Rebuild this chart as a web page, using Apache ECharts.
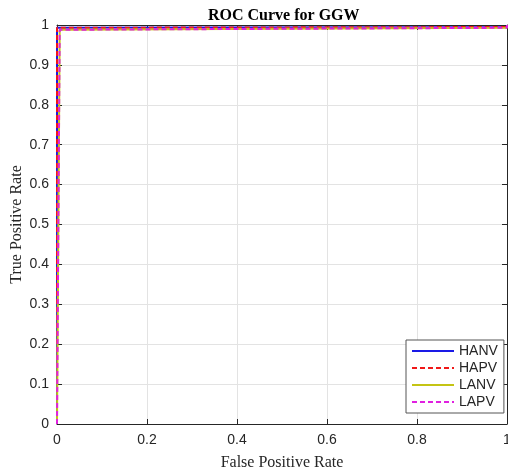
<!DOCTYPE html>
<html>
<head>
<meta charset="utf-8">
<script src="https://cdn.jsdelivr.net/npm/echarts@6/dist/echarts.min.js"></script>
<style>html,body{margin:0;padding:0;background:#fff;}#chart{width:508px;height:474px;}</style>
</head>
<body>
<div id="chart"></div>
<script>
// Data
const seriesNames = ['HANV', 'HAPV', 'LANV', 'LAPV'];
const hanvFPR = [0, 0, 1, 1];
const hanvTPR = [0, 0.993, 0.995, 1];
const hapvFPR = [0, 0, 1, 1];
const hapvTPR = [0, 0.993, 0.995, 1];
const lanvFPR = [0, 0.006, 1, 1];
const lanvTPR = [0, 0.988, 0.993, 1];
const lapvFPR = [0, 0.006, 1, 1];
const lapvTPR = [0, 0.988, 0.993, 1];
const xTicks = [0, 0.2, 0.4, 0.6, 0.8, 1];
const yTicks = [0, 0.1, 0.2, 0.3, 0.4, 0.5, 0.6, 0.7, 0.8, 0.9, 1];

const pairs = (xs, ys) => xs.map((x, i) => [x, ys[i]]);
const colors = ['#1a1ae6', '#f01818', '#c4c414', '#e020e0'];
const types = ['solid', [5, 3], 'solid', [5, 3]];
const datasets = [pairs(hanvFPR, hanvTPR), pairs(hapvFPR, hapvTPR), pairs(lanvFPR, lanvTPR), pairs(lapvFPR, lapvTPR)];

const axisColor = '#262626';
const sans = 'Liberation Sans, Arial, sans-serif';
const serif = 'Liberation Serif, Times New Roman, serif';

const chart = echarts.init(document.getElementById('chart'), null, {renderer: 'canvas'});
chart.setOption({
  animation: false,
  backgroundColor: '#fff',
  title: {
    text: 'ROC Curve for GGW',
    left: 203, top: 3,
    textStyle: {fontFamily: serif, fontWeight: 'bold', fontSize: 16, color: '#000'}
  },
  grid: {left: 57, right: 1, top: 25, bottom: 50, containLabel: false, outerBoundsMode: 'none'},
  legend: {
    data: seriesNames,
    orient: 'vertical',
    left: 406, top: 340,
    itemWidth: 42, itemHeight: 14, itemGap: 3,
    padding: [4, 6, 4, 5],
    backgroundColor: '#fff',
    borderColor: '#555', borderWidth: 1,
    textStyle: {fontFamily: sans, fontSize: 14, color: axisColor},
    itemStyle: {opacity: 0}
  },
  xAxis: [{
    type: 'value', min: 0, max: 1, interval: 0.2,
    name: 'False Positive Rate', nameLocation: 'middle', nameGap: 31, nameMoveOverlap: false,
    nameTextStyle: {fontFamily: serif, fontSize: 16, color: axisColor},
    axisLine: {show: true, onZero: false, lineStyle: {color: axisColor, width: 1}},
    axisTick: {show: true, inside: true, length: 5, lineStyle: {color: axisColor}},
    axisLabel: {fontFamily: sans, fontSize: 14, color: axisColor, margin: 9,
      formatter: v => String(parseFloat(v.toFixed(1)))},
    splitLine: {show: true, lineStyle: {color: '#e3e3e3', width: 1}}
  }, {
    type: 'value', min: 0, max: 1, interval: 0.2, position: 'top',
    axisLine: {show: true, onZero: false, lineStyle: {color: axisColor, width: 1}},
    axisTick: {show: true, inside: true, length: 5, lineStyle: {color: axisColor}},
    axisLabel: {show: false}, splitLine: {show: false}
  }],
  yAxis: [{
    type: 'value', min: 0, max: 1, interval: 0.1,
    name: 'True Positive Rate', nameLocation: 'middle', nameGap: 32, nameMoveOverlap: false,
    nameTextStyle: {fontFamily: serif, fontSize: 16, color: axisColor},
    axisLine: {show: true, onZero: false, lineStyle: {color: axisColor, width: 1}},
    axisTick: {show: true, inside: true, length: 5, lineStyle: {color: axisColor}},
    axisLabel: {fontFamily: sans, fontSize: 14, color: axisColor, margin: 8,
      formatter: v => String(parseFloat(v.toFixed(1)))},
    splitLine: {show: true, lineStyle: {color: '#e3e3e3', width: 1}}
  }, {
    type: 'value', min: 0, max: 1, interval: 0.1, position: 'right',
    axisLine: {show: true, onZero: false, lineStyle: {color: axisColor, width: 1}},
    axisTick: {show: true, inside: true, length: 5, lineStyle: {color: axisColor}},
    axisLabel: {show: false}, splitLine: {show: false}
  }],
  series: seriesNames.map((name, i) => ({
    name, type: 'line', xAxisIndex: 0, yAxisIndex: 0,
    data: datasets[i], showSymbol: false, symbol: 'none',
    color: colors[i],
    lineStyle: {color: colors[i], width: 2, type: types[i]},
    clip: true, z: 2 + i
  }))
});
</script>
</body>
</html>
